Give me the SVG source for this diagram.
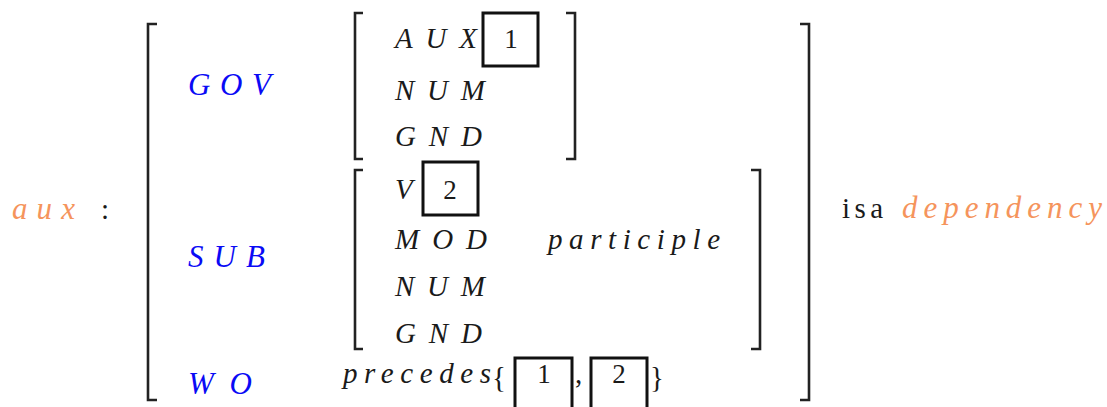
<svg xmlns="http://www.w3.org/2000/svg" width="1107" height="407" viewBox="0 0 1107 407">
  <style>
    .m { font-family: "Liberation Serif", "Times New Roman", serif; font-style: italic; fill: #1a1a1a; font-size: 29px; }
    .feat { fill: #0a0af5; font-size: 31px; }
    .type { fill: #f5945c; font-size: 31px; }
    .rm { font-family: "Liberation Serif", "Times New Roman", serif; fill: #1a1a1a; font-size: 29px; }
    .num { font-family: "Liberation Serif", "Times New Roman", serif; fill: #1a1a1a; font-size: 27px; text-anchor: middle; }
    .br { fill: none; stroke: #222; stroke-width: 2.6; }
    .tag { fill: none; stroke: #111; stroke-width: 3; }
  </style>

  <!-- type name and colon -->
  <g id="type-aux">
    <text class="m type" x="12" y="219" textLength="63" lengthAdjust="spacing">aux</text>
    <text class="rm" x="101" y="219">:</text>
  </g>

  <!-- outer attribute-value matrix brackets -->
  <g id="outer-matrix">
    <path class="br" d="M157,24 H148 V400 H157"/>
    <path class="br" d="M800,24 H809 V400 H800"/>
  </g>

  <!-- GOV feature and its value -->
  <g id="gov">
    <text class="m feat" x="188" y="95" textLength="83" lengthAdjust="spacing">GOV</text>
    <path class="br" d="M363,13 H355 V159 H363"/>
    <path class="br" d="M566,13 H575 V159 H566"/>
    <text class="m" x="395" y="48" textLength="82" lengthAdjust="spacing">AUX</text>
    <rect class="tag" x="483" y="13" width="55" height="53"/>
    <text class="num" x="511" y="48">1</text>
    <text class="m" x="395" y="100" textLength="90" lengthAdjust="spacing">NUM</text>
    <text class="m" x="395" y="146" textLength="87" lengthAdjust="spacing">GND</text>
  </g>

  <!-- SUB feature and its value -->
  <g id="sub">
    <text class="m feat" x="188" y="267" textLength="77" lengthAdjust="spacing">SUB</text>
    <path class="br" d="M363,170 H355 V349 H363"/>
    <path class="br" d="M751,170 H760 V349 H751"/>
    <text class="m" x="395" y="199">V</text>
    <rect class="tag" x="423" y="162" width="55" height="53"/>
    <text class="num" x="450" y="199">2</text>
    <text class="m" x="395" y="249" textLength="92" lengthAdjust="spacing">MOD</text>
    <text class="m" x="548" y="249" textLength="172" lengthAdjust="spacing">participle</text>
    <text class="m" x="395" y="296" textLength="90" lengthAdjust="spacing">NUM</text>
    <text class="m" x="395" y="343" textLength="87" lengthAdjust="spacing">GND</text>
  </g>

  <!-- WO feature and its value -->
  <g id="wo">
    <text class="m feat" x="188" y="394" textLength="64" lengthAdjust="spacing">WO</text>
    <text class="m" x="343" y="383" textLength="148" lengthAdjust="spacing">precedes</text>
    <text class="rm" x="492" y="387" font-size="31">{</text>
    <rect class="tag" x="515" y="358" width="57" height="62"/>
    <text class="num" x="544" y="383">1</text>
    <text class="rm" x="575" y="383">,</text>
    <rect class="tag" x="591" y="358" width="56" height="62"/>
    <text class="num" x="619" y="383">2</text>
    <text class="rm" x="650" y="387" font-size="31">}</text>
  </g>

  <!-- supertype -->
  <g id="isa">
    <text class="rm" x="842" y="218" textLength="41" lengthAdjust="spacing">isa</text>
    <text class="m type" x="902" y="218" textLength="200" lengthAdjust="spacing">dependency</text>
  </g>
</svg>
